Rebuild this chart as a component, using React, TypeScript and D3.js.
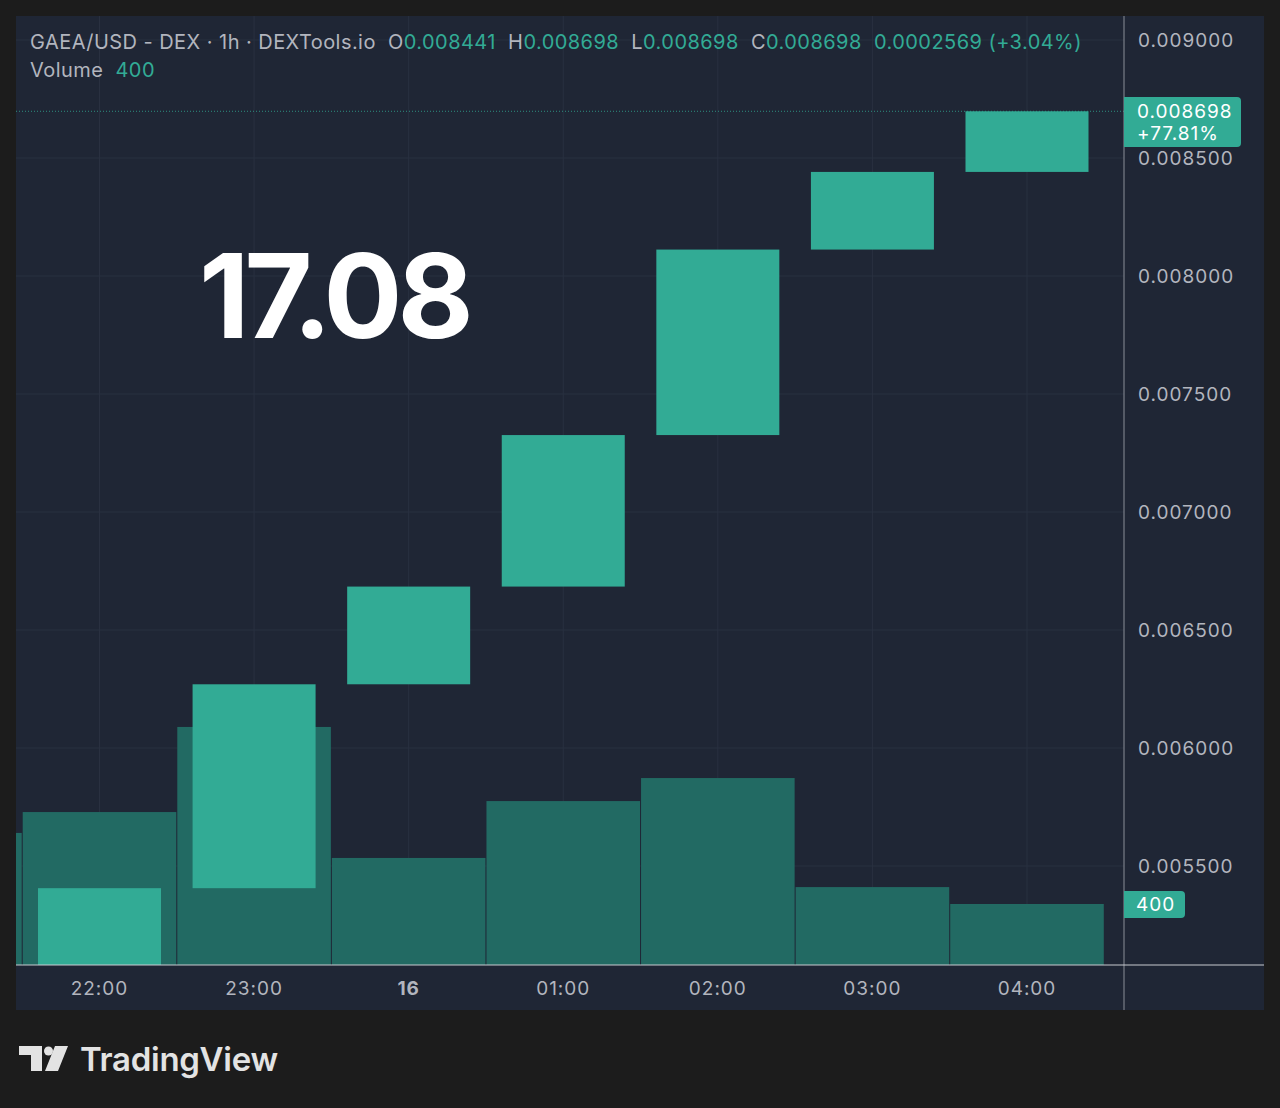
import * as d3 from 'd3';

// hourly candles shown on screen
const timeLabels = ['22:00', '23:00', '16', '01:00', '02:00', '03:00', '04:00'];
const opens = [0.0050, 0.005406, 0.006270, 0.006684, 0.007326, 0.008112, 0.008441];
const closes = [0.005406, 0.006270, 0.006684, 0.007326, 0.008112, 0.008441, 0.008698];
// volume includes the 21:00 bar peeking in at the left edge
const volumeSlots = [-1, 0, 1, 2, 3, 4, 5, 6];
const volumes = [866, 1003, 1561, 702, 1075, 1226, 511, 400];
const priceTicks = [0.0055, 0.006, 0.0065, 0.007, 0.0075, 0.008, 0.0085, 0.009];
const legendChange = '0.0002569 (+3.04%)';
const lastChangePct = '+77.81%';
const bigLabel = '17.08';

const W = 1280;
const H = 1108;
const panel = { left: 16, top: 16, right: 1264, bottom: 1010 };
const axisX = 1124;
const axisY = 965;

const BG = '#1c1c1c';
const PANEL = '#1f2635';
const GRID = '#293040';
const TEXT = '#b2b5be';
const UP = '#32ab95';
const VOL = '#226a63';
const FONT = 'Inter, "Noto Sans", sans-serif';

export default function App() {
  const x = d3.scaleLinear().domain([0, 6]).range([99.5, 1027]);
  const step = x(1) - x(0);
  const bodyW = 123;
  const y = d3.scaleLinear().domain([0.0055, 0.009]).range([866, 40]);
  const yVol = d3.scaleLinear().domain([0, 400]).range([axisY, 904]);

  const last = closes[closes.length - 1];
  const o = opens[opens.length - 1];

  return (
    <svg width={W} height={H} style={{ display: 'block', position: 'absolute', left: 0, top: 0 }}>
      <rect x={0} y={0} width={W} height={H} fill={BG} />
      <rect x={panel.left} y={panel.top} width={panel.right - panel.left} height={panel.bottom - panel.top} fill={PANEL} />
      <defs>
        <clipPath id="plot">
          <rect x={panel.left} y={panel.top} width={axisX - panel.left} height={axisY - panel.top} />
        </clipPath>
      </defs>

      <g clipPath="url(#plot)">
        {/* grid */}
        {priceTicks.map(p => (
          <line key={p} x1={panel.left} x2={axisX} y1={y(p)} y2={y(p)} stroke={GRID} strokeWidth={1} />
        ))}
        {timeLabels.map((t, i) => (
          <line key={t} x1={x(i)} x2={x(i)} y1={panel.top} y2={axisY} stroke={GRID} strokeWidth={1} />
        ))}

        {/* volume */}
        {volumes.map((v, i) => (
          <rect key={i} x={x(volumeSlots[i]) - step / 2 + 0.5} width={step - 1}
            y={yVol(v)} height={axisY - yVol(v)} fill={VOL} />
        ))}

        {/* last price line */}
        <line x1={panel.left} x2={axisX} y1={y(last)} y2={y(last)} stroke={UP}
          strokeWidth={1} strokeDasharray="1,2" opacity={0.8} />

        {/* candles */}
        {opens.map((op, i) => {
          const c = closes[i];
          const top = y(Math.max(op, c));
          const bot = y(Math.min(op, c));
          return <rect key={i} x={x(i) - bodyW / 2} width={bodyW} y={top} height={bot - top} fill={UP} />;
        })}

        <text x={199} y={338} fill="#ffffff" fontFamily={FONT} fontWeight={700}
          fontSize={117} letterSpacing={-5}>{bigLabel}</text>
      </g>

      {/* legend */}
      <text x={30} y={49} fontFamily={FONT} fontSize={20} fill={TEXT} letterSpacing={0.45} style={{ whiteSpace: 'pre' }}>
        <tspan>GAEA/USD - DEX · 1h · DEXTools.io  O</tspan>
        <tspan fill={UP}>{o.toFixed(6)}</tspan>
        <tspan>  H</tspan>
        <tspan fill={UP}>{last.toFixed(6)}</tspan>
        <tspan>  L</tspan>
        <tspan fill={UP}>{last.toFixed(6)}</tspan>
        <tspan>  C</tspan>
        <tspan fill={UP}>{last.toFixed(6)}</tspan>
        <tspan fill={UP}>{'  ' + legendChange}</tspan>
      </text>
      <text x={30} y={77} fontFamily={FONT} fontSize={20} fill={TEXT} letterSpacing={0.45} style={{ whiteSpace: 'pre' }}>
        <tspan>Volume  </tspan>
        <tspan fill={UP}>{volumes[volumes.length - 1]}</tspan>
      </text>

      {/* axes lines */}
      <line x1={axisX} x2={axisX} y1={panel.top} y2={panel.bottom} stroke="#8a8e98" strokeWidth={1} />
      <line x1={panel.left} x2={panel.right} y1={axisY} y2={axisY} stroke="#c8cad0" strokeWidth={1} />

      {/* price scale */}
      {priceTicks.map(p => (
        <text key={p} x={1138} y={y(p) + 7} fontFamily={FONT} fontSize={19} fill={TEXT} letterSpacing={1}>
          {p.toFixed(6)}
        </text>
      ))}

      <path d={`M${axisX},97 H1237 a4,4 0 0 1 4,4 V143 a4,4 0 0 1 -4,4 H${axisX} Z`} fill={UP} />
      <text x={1137} y={118} fontFamily={FONT} fontSize={19} fill="#ffffff" letterSpacing={1}>{last.toFixed(6)}</text>
      <text x={1137} y={140} fontFamily={FONT} fontSize={19} fill="#ffffff" letterSpacing={1}>{lastChangePct}</text>

      <path d={`M${axisX},891 H1181 a4,4 0 0 1 4,4 V914 a4,4 0 0 1 -4,4 H${axisX} Z`} fill={UP} />
      <text x={1136} y={911} fontFamily={FONT} fontSize={19} fill="#ffffff" letterSpacing={1}>{volumes[volumes.length - 1]}</text>

      {/* time scale */}
      {timeLabels.map((t, i) => (
        <text key={t} x={x(i)} y={995} textAnchor="middle" fontFamily={FONT} fontSize={19}
          fontWeight={t === '16' ? 700 : 400} fill={TEXT} letterSpacing={1}>{t}</text>
      ))}

      {/* TradingView mark */}
      <g fill="#e3e3e3">
        <path d="M19,1046 H42 V1071 H31 V1055 H19 Z" />
        <circle cx={48.5} cy={1051} r={4.5} />
        <path d="M55,1046 H68 L58,1071 H45 Z" />
      </g>
      <text x={80} y={1071} fontFamily={FONT} fontSize={33} fontWeight={600} fill="#e3e3e3" letterSpacing={-0.3}>TradingView</text>
    </svg>
  );
}
